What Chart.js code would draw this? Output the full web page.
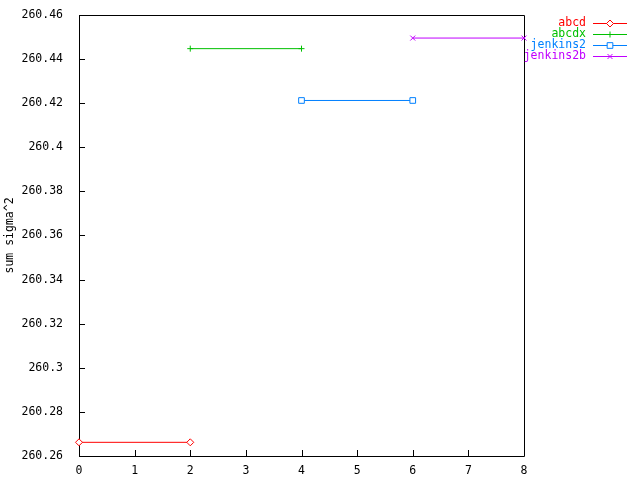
<!DOCTYPE html>
<html>
<head>
<meta charset="utf-8">
<script src="https://cdn.jsdelivr.net/npm/chart.js@4/dist/chart.umd.min.js"></script>
<style>
  html, body { margin: 0; padding: 0; background: #ffffff; }
  #wrap { width: 640px; height: 480px; }
</style>
</head>
<body>
<div id="wrap"><canvas id="chart" width="640" height="480"></canvas></div>
<script>
/* ---------------- DATA ---------------- */

const seriesNames = ["abcd", "abcdx", "jenkins2", "jenkins2b"];

const abcdX = [0, 2];
const abcdY = [260.2662, 260.2662];

const abcdxX = [2, 4];
const abcdxY = [260.4447, 260.4447];

const jenkins2X = [4, 6];
const jenkins2Y = [260.4212, 260.4212];

const jenkins2bX = [6, 8];
const jenkins2bY = [260.4495, 260.4495];

const xTicks = [0, 1, 2, 3, 4, 5, 6, 7, 8];
const yTicks = [260.26, 260.28, 260.3, 260.32, 260.34, 260.36, 260.38, 260.4, 260.42, 260.44, 260.46];

const yTitle = "sum sigma^2";

/* ---------------- STYLE ---------------- */

const FONT = "DejaVu Sans Mono";
const FONT_SIZE = 11.5;
const COLORS = ["#ff0000", "#00c000", "#0080ff", "#c000ff"];
const MARKERS = ["rectRot", "cross", "rect", "crossRot"];
const RADII = [3.5, 3, 4, 3.5];

function toPoints(xs, ys) {
  return xs.map((x, i) => ({ x: x, y: ys[i] }));
}

const seriesData = [
  toPoints(abcdX, abcdY),
  toPoints(abcdxX, abcdxY),
  toPoints(jenkins2X, jenkins2Y),
  toPoints(jenkins2bX, jenkins2bY),
];

/* ---------------- MARKERS ---------------- */

function drawMarker(ctx, style, x, y, r, color) {
  ctx.save();
  ctx.strokeStyle = color;
  ctx.fillStyle = "#ffffff";
  ctx.lineWidth = 1;
  ctx.beginPath();
  if (style === "rectRot") {
    ctx.moveTo(x - r, y);
    ctx.lineTo(x, y - r);
    ctx.lineTo(x + r, y);
    ctx.lineTo(x, y + r);
    ctx.closePath();
    ctx.fill();
    ctx.stroke();
  } else if (style === "rect") {
    const s = r * Math.SQRT1_2;
    ctx.rect(x - s, y - s, 2 * s, 2 * s);
    ctx.fill();
    ctx.stroke();
  } else if (style === "cross") {
    ctx.moveTo(x - r, y);
    ctx.lineTo(x + r, y);
    ctx.moveTo(x, y - r);
    ctx.lineTo(x, y + r);
    ctx.stroke();
  } else {
    const d = r * Math.SQRT1_2;
    ctx.moveTo(x - d, y - d);
    ctx.lineTo(x + d, y + d);
    ctx.moveTo(x - d, y + d);
    ctx.lineTo(x + d, y - d);
    ctx.stroke();
  }
  ctx.restore();
}

/* ---------------- FRAME + TICKS ---------------- */

const framePlugin = {
  id: "frame",
  beforeDatasetsDraw(chart) {
    const ctx = chart.ctx;
    const a = chart.chartArea;
    const xs = chart.scales.x;
    const ys = chart.scales.y;
    ctx.save();
    ctx.strokeStyle = "#000000";
    ctx.lineWidth = 1;
    ctx.beginPath();
    ctx.rect(Math.round(a.left) + 0.5, Math.round(a.top) + 0.5,
      Math.round(a.right - a.left), Math.round(a.bottom - a.top));
    xs.ticks.forEach((t, i) => {
      const px = Math.round(xs.getPixelForTick(i)) + 0.5;
      ctx.moveTo(px, a.bottom);
      ctx.lineTo(px, a.bottom - 6);
    });
    ys.ticks.forEach((t, i) => {
      const py = Math.round(ys.getPixelForTick(i)) + 0.5;
      ctx.moveTo(a.left, py);
      ctx.lineTo(a.left + 6, py);
    });
    ctx.stroke();
    ctx.restore();
  },
};

/* ---------------- LEGEND ---------------- */

const keyPlugin = {
  id: "key",
  afterDraw(chart) {
    const ctx = chart.ctx;
    ctx.save();
    ctx.font = FONT_SIZE + "px '" + FONT + "'";
    ctx.textAlign = "right";
    ctx.textBaseline = "middle";
    chart.data.datasets.forEach((ds, i) => {
      const y = 23.5 + i * 11;
      ctx.fillStyle = ds.borderColor;
      ctx.fillText(ds.label, 586, y);
      ctx.strokeStyle = ds.borderColor;
      ctx.lineWidth = 1;
      ctx.beginPath();
      ctx.moveTo(593, y);
      ctx.lineTo(627, y);
      ctx.stroke();
      drawMarker(ctx, MARKERS[i], 610, y, RADII[i], ds.borderColor);
    });
    ctx.restore();
  },
};

/* ---------------- CHART ---------------- */

const chart = new Chart(document.getElementById("chart").getContext("2d"), {
  type: "line",
  data: {
    datasets: seriesNames.map((name, i) => ({
      label: name,
      data: seriesData[i],
      borderColor: COLORS[i],
      backgroundColor: COLORS[i],
      borderWidth: 1,
      pointStyle: MARKERS[i],
      pointRadius: RADII[i],
      pointBorderWidth: 1,
      pointBorderColor: COLORS[i],
      pointBackgroundColor: "#ffffff",
      fill: false,
      tension: 0,
      clip: false,
    })),
  },
  options: {
    responsive: false,
    animation: false,
    events: [],
    layout: { padding: { left: 0, top: 13, right: 116, bottom: 0 } },
    plugins: {
      legend: { display: false },
      tooltip: { enabled: false },
    },
    scales: {
      x: {
        type: "linear",
        min: 0,
        max: 8,
        afterBuildTicks: (s) => { s.ticks = xTicks.map((v) => ({ value: v })); },
        afterFit: (s) => { s.height = 24; },
        grid: { display: false },
        border: { display: false },
        ticks: {
          color: "#000000",
          padding: 0,
          maxRotation: 0,
          autoSkip: false,
          font: { family: FONT, size: FONT_SIZE },
          callback: (v) => String(v),
        },
      },
      y: {
        type: "linear",
        min: 260.26,
        max: 260.46,
        afterBuildTicks: (s) => { s.ticks = yTicks.map((v) => ({ value: v })); },
        afterFit: (s) => { s.width = 79; },
        grid: { display: false },
        border: { display: false },
        title: {
          display: true,
          text: yTitle,
          color: "#000000",
          font: { family: FONT, size: FONT_SIZE },
          padding: { top: 3, bottom: 4 },
        },
        ticks: {
          color: "#000000",
          padding: 8,
          autoSkip: false,
          font: { family: FONT, size: FONT_SIZE },
          callback: (v) => String(Number(v.toFixed(2))),
        },
      },
    },
  },
  plugins: [framePlugin, keyPlugin],
});
</script>
</body>
</html>
